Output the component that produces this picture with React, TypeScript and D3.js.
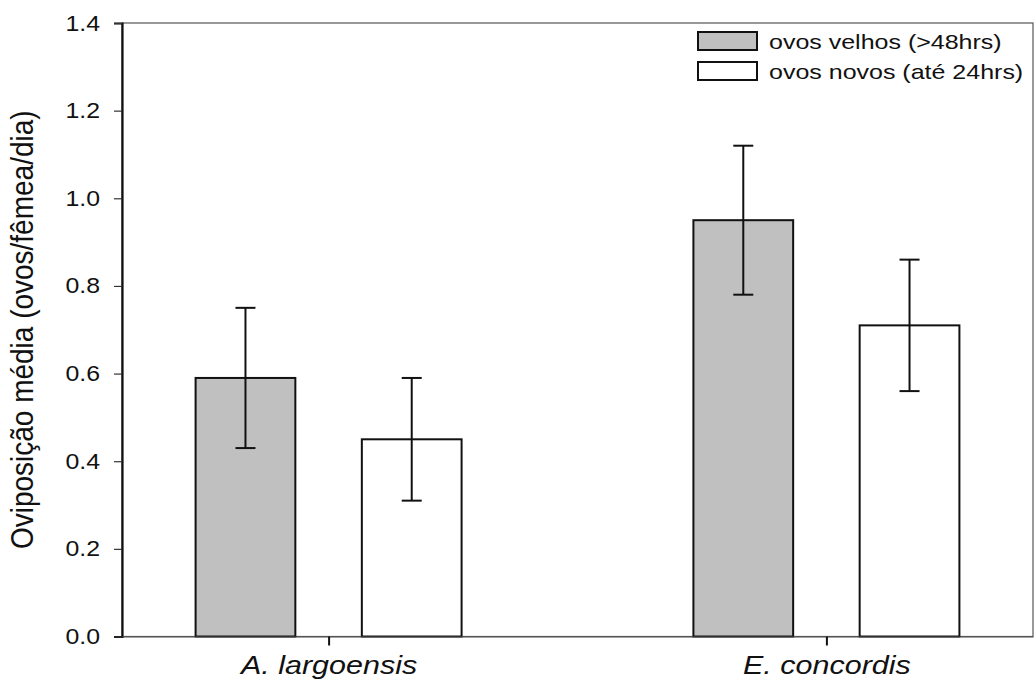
import { useEffect, useRef } from 'react';
import * as d3 from 'd3';

const species = ['A. largoensis', 'E. concordis'];
const seriesNames = ['ovos velhos (>48hrs)', 'ovos novos (até 24hrs)'];
const seriesFill = ['#c0c0c0', '#ffffff'];
// mean oviposition per series, one value per species
const oldEggs = [0.59, 0.95];
const newEggs = [0.45, 0.71];
// standard error per series
const oldErr = [0.16, 0.17];
const newErr = [0.14, 0.15];
const yTicks = [0, 0.2, 0.4, 0.6, 0.8, 1.0, 1.2, 1.4];

const FONT = '"Liberation Sans", Arial, sans-serif';

// the source figure is horizontally stretched; widen glyphs to match
function stretch(sel: d3.Selection<any, any, any, any>, factor: number) {
  sel.each(function () {
    const el = this as SVGTextElement;
    const len = el.getComputedTextLength();
    el.setAttribute('textLength', String(len * factor));
    el.setAttribute('lengthAdjust', 'spacingAndGlyphs');
  });
}

export default function App() {
  const svgRef = useRef<SVGSVGElement>(null);

  useEffect(() => {
    document.body.style.margin = '0';
    const svg = d3.select(svgRef.current);
    if (!svg.node()) return;
    svg.selectAll('*').remove();

    const width = 1034;
    const height = 684;
    const margin = { top: 23, right: 1, bottom: 47.5, left: 122 };

    const x = d3
      .scalePoint<string>()
      .domain(species)
      .range([margin.left, width - margin.right])
      .padding(0.415);
    const y = d3.scaleLinear().domain([0, 1.4]).range([height - margin.bottom, margin.top]);

    const groupOffset = d3.scaleBand<number>().domain([0, 1]).range([-133, 133]).paddingInner(0.4);

    // frame (top/right), thin gray
    svg
      .append('rect')
      .attr('x', margin.left)
      .attr('y', margin.top)
      .attr('width', width - margin.right - margin.left)
      .attr('height', y(0) - margin.top)
      .attr('fill', 'none')
      .attr('stroke', '#555')
      .attr('stroke-width', 1.2);

    const series = [
      { values: oldEggs, err: oldErr },
      { values: newEggs, err: newErr },
    ];

    const g = svg.append('g');
    series.forEach((s, si) => {
      species.forEach((sp, i) => {
        const x0 = x(sp)! + groupOffset(si)!;
        const bw = groupOffset.bandwidth();
        g.append('rect')
          .attr('x', x0)
          .attr('y', y(s.values[i]))
          .attr('width', bw)
          .attr('height', y(0) - y(s.values[i]))
          .attr('fill', seriesFill[si])
          .attr('stroke', '#111')
          .attr('stroke-width', 2);
        const cx = x0 + bw / 2;
        const hi = y(s.values[i] + s.err[i]);
        const lo = y(s.values[i] - s.err[i]);
        g.append('line')
          .attr('x1', cx)
          .attr('x2', cx)
          .attr('y1', hi)
          .attr('y2', lo)
          .attr('stroke', '#111')
          .attr('stroke-width', 2);
        [hi, lo].forEach((yy) => {
          g.append('line')
            .attr('x1', cx - 10)
            .attr('x2', cx + 10)
            .attr('y1', yy)
            .attr('y2', yy)
            .attr('stroke', '#111')
            .attr('stroke-width', 2);
        });
      });
    });

    // y axis
    const yAxis = svg
      .append('g')
      .attr('transform', `translate(${margin.left},0)`)
      .call(
        d3
          .axisLeft(y)
          .tickValues(yTicks)
          .tickFormat(d3.format('.1f'))
          .tickSize(8)
          .tickPadding(14),
      );
    yAxis.select('.domain').attr('stroke', '#111').attr('stroke-width', 2.2);
    yAxis.selectAll('.tick line').attr('stroke', '#333').attr('stroke-width', 1.2);
    const yLabels = yAxis
      .selectAll('.tick text')
      .attr('font-family', FONT)
      .attr('font-size', 22)
      .attr('fill', '#111');
    stretch(yLabels, 1.13);

    // x axis
    const xAxis = svg
      .append('g')
      .attr('transform', `translate(0,${y(0)})`)
      .call(d3.axisBottom(x).tickSize(9).tickPadding(11).tickSizeOuter(0));
    xAxis.select('.domain').attr('stroke', '#555').attr('stroke-width', 1.2);
    xAxis.selectAll('.tick line').attr('stroke', '#111').attr('stroke-width', 2);
    const xLabels = xAxis
      .selectAll('.tick text')
      .attr('font-family', FONT)
      .attr('font-size', 25)
      .attr('font-style', 'italic')
      .attr('fill', '#111');
    stretch(xLabels, 1.22);

    svg
      .append('text')
      .attr('transform', `translate(33,${(margin.top + y(0)) / 2}) scale(1.15,1) rotate(-90)`)
      .attr('text-anchor', 'middle')
      .attr('font-family', FONT)
      .attr('font-size', 28)
      .attr('fill', '#111')
      .text('Oviposição média (ovos/fêmea/dia)');

    // legend
    const legend = svg.append('g').attr('transform', 'translate(698,32)');
    seriesNames.forEach((name, i) => {
      legend
        .append('rect')
        .attr('x', 0)
        .attr('y', i * 30)
        .attr('width', 59)
        .attr('height', 18)
        .attr('fill', seriesFill[i])
        .attr('stroke', '#111')
        .attr('stroke-width', 2);
      const t = legend
        .append('text')
        .attr('x', 71)
        .attr('y', i * 30 + 9)
        .attr('dy', '0.36em')
        .attr('font-family', FONT)
        .attr('font-size', 21)
        .attr('fill', '#111')
        .text(name);
      stretch(t, 1.19);
    });
  }, []);

  return <svg ref={svgRef} width={1034} height={684} style={{ display: 'block' }} />;
}
